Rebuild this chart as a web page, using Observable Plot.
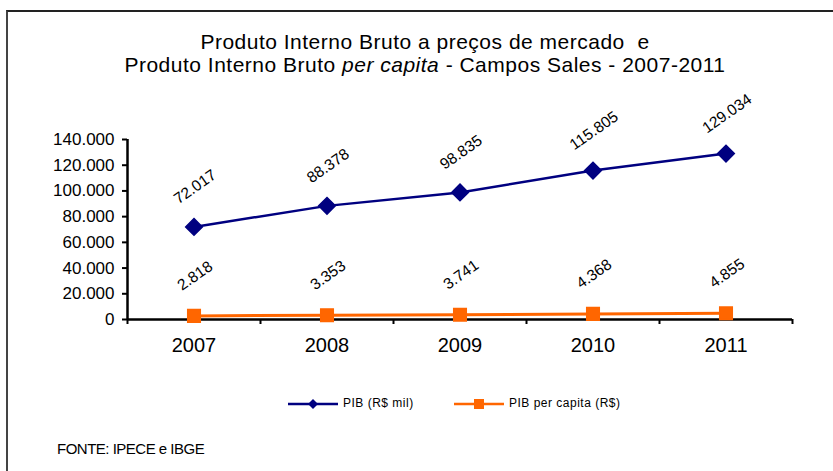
<!DOCTYPE html>
<html><head><meta charset="utf-8">
<script src="https://cdn.jsdelivr.net/npm/d3@7"></script>
<script src="https://cdn.jsdelivr.net/npm/@observablehq/plot@0.6"></script>
<style>
body{margin:0;background:#fff;font-family:"Liberation Sans",Arial,sans-serif;}
#wrap{position:relative;width:833px;height:471px;overflow:hidden;}
#frame{position:absolute;left:6px;top:10px;width:900px;height:600px;border-top:2px solid #222;border-left:2px solid #444;}
#title{position:absolute;left:0;width:850px;top:30px;text-align:center;font-size:21px;line-height:23px;letter-spacing:0.5px;color:#000;}
#plot{position:absolute;left:0;top:0;}
.leg{position:absolute;top:396px;font-size:12px;letter-spacing:0.5px;color:#000;}
#src{position:absolute;left:57px;top:440px;font-size:15px;letter-spacing:-0.5px;}
</style></head>
<body>
<div id="wrap">
<div id="frame"></div>
<div id="plot"></div>
<div id="title">Produto Interno Bruto a preços de mercado&nbsp; e<br>Produto Interno Bruto <i>per capita</i> - Campos Sales - 2007-2011</div>
<div id="legend"></div>
<div id="src">FONTE: IPECE e IBGE</div>
</div>
<script>
const years = [2007, 2008, 2009, 2010, 2011];
const pib = [72017, 88378, 98835, 115805, 129034];
const pibPerCapita = [2818, 3353, 3741, 4368, 4855];
const seriesNames = ["PIB (R$ mil)", "PIB per capita (R$)"];
const seriesColors = ["#000080", "#FF6600"];
const yTicks = [0, 20000, 40000, 60000, 80000, 100000, 120000, 140000];

const loc = d3.formatLocale({decimal: ",", thousands: ".", grouping: [3], currency: ["R$", ""]});
const fmt = loc.format(",");

const rows = [];
years.forEach((y, i) => {
  rows.push({year: y, value: pib[i], s: seriesNames[0]});
  rows.push({year: y, value: pibPerCapita[i], s: seriesNames[1]});
});
const A = rows.filter(d => d.s === seriesNames[0]);
const B = rows.filter(d => d.s === seriesNames[1]);
const bounds = [years[0] - 0.5, ...years.map(y => y + 0.5)];

const chart = Plot.plot({
  width: 833, height: 471,
  marginLeft: 127, marginRight: 41, marginTop: 139, marginBottom: 152,
  style: {fontFamily: "'Liberation Sans', Arial, sans-serif", background: "transparent", overflow: "visible"},
  x: {domain: [bounds[0], bounds[bounds.length - 1]], axis: null, label: null},
  y: {domain: [0, 140000], axis: null, label: null},
  marks: [
    Plot.axisY({ticks: yTicks, tickFormat: fmt, tickSize: 5, tickPadding: 8, strokeWidth: 2, stroke: "#000", fontSize: 17, fill: "#000", label: null, style: {letterSpacing: "-0.4px"}}),
    Plot.axisX({ticks: bounds, tickFormat: () => "", tickSize: 5, strokeWidth: 2, stroke: "#000", label: null}),
    Plot.axisX({ticks: years, tickFormat: d => String(d), tickSize: 0, tickPadding: 18, fontSize: 20, fill: "#000", label: null, style: {letterSpacing: "0.8px"}}),
    Plot.ruleX([bounds[0]], {stroke: "#000", strokeWidth: 2.5}),
    Plot.ruleY([0], {stroke: "#000", strokeWidth: 2.5}),
    Plot.line(A, {x: "year", y: "value", stroke: seriesColors[0], strokeWidth: 2.5}),
    Plot.line(B, {x: "year", y: "value", stroke: seriesColors[1], strokeWidth: 3}),
    Plot.dot(A, {x: "year", y: "value", symbol: "diamond2", r: 7.5, fill: seriesColors[0], stroke: seriesColors[0]}),
    Plot.dot(B, {x: "year", y: "value", symbol: "square2", r: 8, fill: seriesColors[1], stroke: seriesColors[1]}),
    Plot.text(rows, {x: "year", y: "value", text: d => fmt(d.value), dy: -40, dx: 1, rotate: -35, fontSize: 15.5, fill: "#000", style: {letterSpacing: "0.5px"}})
  ]
});
document.getElementById("plot").appendChild(chart);

// legend
const leg = document.getElementById("legend");
const legItems = [
  {name: seriesNames[0], color: seriesColors[0], symbol: "diamond", x: 288},
  {name: seriesNames[1], color: seriesColors[1], symbol: "square", x: 454}
];
legItems.forEach(it => {
  const svg = d3.select(leg).append("svg").attr("width", 52).attr("height", 14)
    .style("position", "absolute").style("left", it.x + "px").style("top", "397px");
  svg.append("line").attr("x1", 0).attr("x2", 50).attr("y1", 7).attr("y2", 7).attr("stroke", it.color).attr("stroke-width", 2.5);
  if (it.symbol === "diamond") svg.append("path").attr("d", "M25,2L30,7L25,12L20,7Z").attr("fill", it.color);
  else svg.append("rect").attr("x", 20).attr("y", 2).attr("width", 10).attr("height", 10).attr("fill", it.color);
  const t = document.createElement("div");
  t.className = "leg"; t.textContent = it.name; t.style.left = (it.x + 55) + "px";
  leg.appendChild(t);
});
</script>
</body></html>
